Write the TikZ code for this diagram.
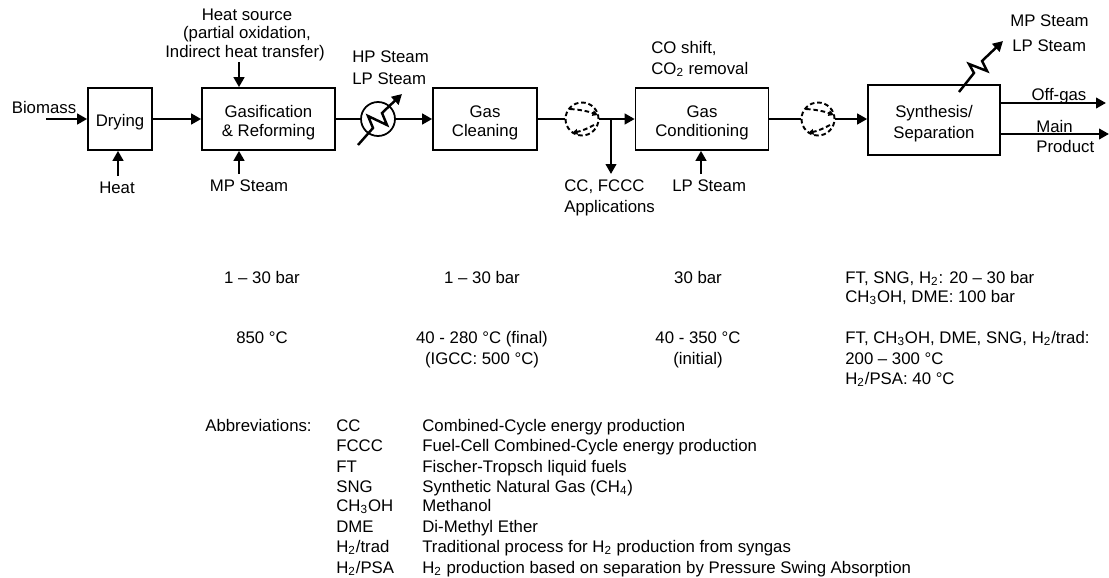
\documentclass[tikz,border=0pt]{standalone}
\usepackage{fontspec}
\setmainfont{Liberation Sans}
\usetikzlibrary{arrows.meta}
\newcommand{\boxtop}{\rule{0pt}{11pt}}
\tikzset{
	txt/.style={inner sep=0pt,font=\fontsize{9.55}{10.8}\selectfont,text height=0.32cm,text depth=0.07cm},
	lbl/.style={txt,anchor=west},
	block/.style={draw,line width=0.9pt,inner sep=0pt,align=center,font=\fontsize{9.55}{10.8}\selectfont},
	flow/.style={line width=1.4pt,-{Triangle[length=0.2cm,width=0.21cm]}},
	pipe/.style={line width=1.4pt},
	rota/.style={draw,circle,line width=1.1pt,dash pattern=on 2.6pt off 1.6pt,minimum size=0.66cm,inner sep=0pt},
	swirl/.style={line width=1.1pt,dash pattern=on 2.6pt off 1.6pt,-{Triangle[length=0.11cm,width=0.11cm]}}
}
\begin{document}
\begin{tikzpicture}[x=0.02cm,y=-0.02cm]
		\useasboundingbox (0,0) rectangle (1109,578);
		
		% bloques
		\node[block,minimum width=1.28cm,minimum height=1.24cm] (drying) at (120,119) {\rule{0pt}{10.4pt}Drying};
		\node[block,minimum width=2.66cm,minimum height=1.24cm] (gasif) at (268.5,119) {\boxtop Gasification\\\& Reforming};
		\node[block,minimum width=2.08cm,minimum height=1.24cm] (clean) at (485,119) {\boxtop Gas\\Cleaning};
		\node[block,minimum width=2.66cm,minimum height=1.24cm] (cond) at (702,119) {\boxtop Gas\\Conditioning};
		\node[block,minimum width=2.64cm,minimum height=1.40cm] (synth) at (934,120) {\boxtop Synthesis/\\[1pt]Separation};
		
		% intercambiador y valvulas
		\node[draw,circle,line width=1pt,minimum size=0.68cm,inner sep=0pt] (exch) at (378,119) {};
		\node[rota] (rotaA) at (582,119) {};
		\node[rota] (rotaB) at (818,119) {};
		
		% extremos libres
		\coordinate (biomassin) at (46,119);
		\coordinate (heatin) at (118,176);
		\coordinate (sourcein) at (239,62);
		\coordinate (mpin) at (239,174);
		\coordinate (branch) at (611,119);
		\coordinate (applout) at (611,174);
		\coordinate (lpin) at (701,174);
		\coordinate (offA) at (1000,103);
		\coordinate (offB) at (1106,103);
		\coordinate (mainA) at (1000,134);
		\coordinate (mainB) at (1109,134);
		
		% linea principal
		\draw[flow] (biomassin) -- (drying.west);
		\draw[flow] (drying.east) -- (gasif.west);
		\draw[pipe] (gasif.east) -- (exch.west);
		\draw[flow] (exch.east) -- (clean.west);
		\draw[pipe] (clean.east) -- (rotaA.west);
		\draw[flow] (rotaA.east) -- (cond.west);
		\draw[pipe] (cond.east) -- (rotaB.west);
		\draw[flow] (rotaB.east) -- (synth.west |- rotaB.east);
		
		% entradas y salidas
		\draw[flow] (heatin) -- (heatin |- drying.south);
		\draw[flow] (sourcein) -- (sourcein |- gasif.north);
		\draw[flow] (mpin) -- (mpin |- gasif.south);
		\draw[flow] (branch) -- (applout);
		\draw[flow] (lpin) -- (lpin |- cond.south);
		\draw[flow] (offA) -- (offB);
		\draw[flow] (mainA) -- (mainB);
		
		% serpentines
		\draw[flow,line join=miter] (358,145) -- (373,128) -- (368,116) -- (387,125) -- (382,113) -- (402,94);
		\draw[flow,line join=miter] (959,92) -- (974,73) -- (969,64) -- (987,71) -- (982,61) -- (1003,41);
		
		% giro de las valvulas
		\draw[swirl] (570,109) to[bend left=8] (598,115);
		\draw[swirl] (594,125) to[bend left=8] (572,133);
		\draw[swirl] (806,109) to[bend left=8] (834,115);
		\draw[swirl] (830,125) to[bend left=8] (808,133);
		
		% rotulos de arriba
		\node[txt] (tbiomass) at (44,107) {Biomass};
		\node[txt] (theat) at (117,187) {Heat};
		\node[txt] (tsourceA) at (247,14) {Heat source};
		\node[txt] (tsourceB) at (247,32) {(partial oxidation,};
		\node[txt] (tsourceC) at (245,51) {Indirect heat transfer)};
		\node[txt] (tmp) at (249,185) {MP Steam};
		\node[lbl] (thp) at (352,56) {HP Steam};
		\node[lbl] (tlp) at (352,78) {LP Steam};
		\node[lbl] (tappA) at (564,185) {CC, FCCC};
		\node[lbl] (tappB) at (564,206) {Applications};
		\node[lbl] (tshift) at (651,47) {CO shift,};
		\node[lbl] (tremoval) at (651,68) {CO\textsubscript{2} removal};
		\node[lbl] (tlpin) at (672,185) {LP Steam};
		\node[lbl] (tmpout) at (1010,20) {MP Steam};
		\node[lbl] (tlpout) at (1012,45) {LP Steam};
		\node[txt] (toff) at (1059,94) {Off-gas};
		\node[lbl] (tmainA) at (1036,126) {Main};
		\node[lbl] (tmainB) at (1036,146) {Product};
		
		% presiones
		\node[txt] (pA) at (262,277) {1 -- 30 bar};
		\node[txt] (pB) at (482,277) {1 -- 30 bar};
		\node[txt] (pC) at (698,277) {30 bar};
		\node[lbl] (pD) at (845,277) {FT, SNG, H\textsubscript{2}: 20 -- 30 bar};
		\node[lbl] (pE) at (845,296) {CH\textsubscript{3}OH, DME: 100 bar};
		
		% temperaturas
		\node[txt] (tempA) at (262,337) {850 °C};
		\node[txt] (tempB) at (482,337) {40 - 280 °C (final)};
		\node[txt] (tempC) at (482,358) {(IGCC: 500 °C)};
		\node[txt] (tempD) at (698,337) {40 - 350 °C};
		\node[txt] (tempE) at (698,358) {(initial)};
		\node[lbl] (tempF) at (845,337) {FT, CH\textsubscript{3}OH, DME, SNG, H\textsubscript{2}/trad:};
		\node[lbl] (tempG) at (845,358) {200 -- 300 °C};
		\node[lbl] (tempH) at (845,378) {H\textsubscript{2}/PSA: 40 °C};
		
		% abreviaturas
		\node[lbl] (abbr) at (205,425) {Abbreviations:};
		\node[lbl] (aA) at (336,425) {CC};
		\node[lbl] (aB) at (336,445) {FCCC};
		\node[lbl] (aC) at (336,466) {FT};
		\node[lbl] (aD) at (336,486) {SNG};
		\node[lbl] (aE) at (336,505) {CH\textsubscript{3}OH};
		\node[lbl] (aF) at (336,526) {DME};
		\node[lbl] (aG) at (336,546) {H\textsubscript{2}/trad};
		\node[lbl] (aH) at (336,567) {H\textsubscript{2}/PSA};
		\node[lbl] (dA) at (422,425) {Combined-Cycle energy production};
		\node[lbl] (dB) at (422,445) {Fuel-Cell Combined-Cycle energy production};
		\node[lbl] (dC) at (422,466) {Fischer-Tropsch liquid fuels};
		\node[lbl] (dD) at (422,486) {Synthetic Natural Gas (CH\textsubscript{4})};
		\node[lbl] (dE) at (422,505) {Methanol};
		\node[lbl] (dF) at (422,526) {Di-Methyl Ether};
		\node[lbl] (dG) at (422,546) {Traditional process for H\textsubscript{2} production from syngas};
		\node[lbl] (dH) at (422,567) {H\textsubscript{2} production based on separation by Pressure Swing Absorption};
	\end{tikzpicture}
\end{document}
